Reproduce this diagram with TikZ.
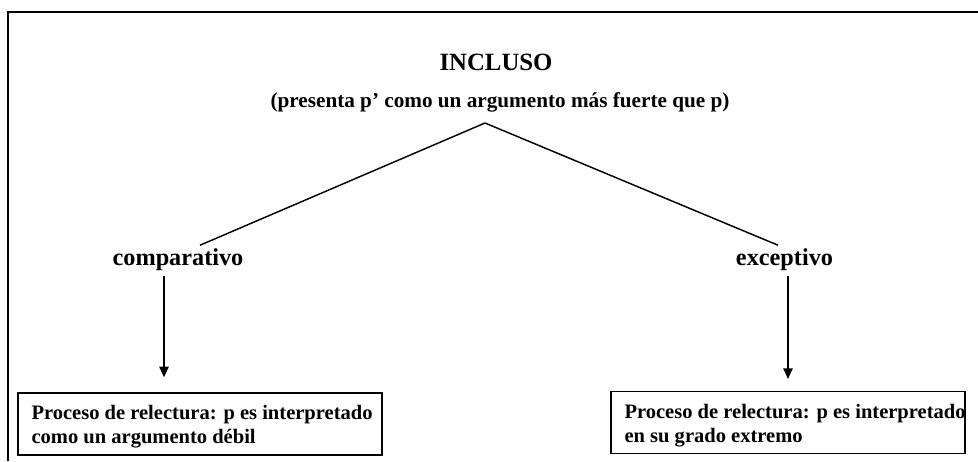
\documentclass[tikz,border=0pt]{standalone}
\usepackage{fontspec}
\setmainfont{Liberation Serif}
\usetikzlibrary{arrows.meta}
\begin{document}
\begin{tikzpicture}[x=0.75pt,y=-0.75pt,
  lbl/.style={inner sep=0pt,anchor=base,font=\bfseries\fontsize{18.2}{21}\selectfont},
  boxframe/.style={draw,line width=1.1pt,inner sep=0pt},
  boxtext/.style={inner sep=0pt,anchor=west,align=left,font=\bfseries\fontsize{15.4}{18}\selectfont},
  conn/.style={line width=1.1pt},
  arr/.style={line width=1.3pt,-{Triangle[length=8pt,width=7pt]}}]
\useasboundingbox (0,0) rectangle (978,461);
% frame
\draw[line width=1.5pt] (8,461) -- (8,11.5) -- (978,11.5);
% titles
\node[lbl,font=\bfseries\fontsize{18.6}{21}\selectfont] (title) at (496,70) {INCLUSO};
\node[lbl,font=\bfseries\fontsize{15.9}{18}\selectfont] (sub) at (500,107) {(presenta p’ como un argumento más fuerte que p)};
\coordinate (apex) at (485,123);
% branches
\node[lbl] (comp) at (178,265) {comparativo};
\node[lbl] (exc) at (784.5,265) {exceptivo};
\draw[conn] (apex) -- ([xshift=22*0.75pt,yshift=2pt]comp.north);
\draw[conn] (apex) -- ([xshift=-6.5*0.75pt,yshift=2pt]exc.north);
% boxes
\node[boxframe,minimum width=364*0.75pt,minimum height=62*0.75pt] (b1) at (200,424) {};
\node[boxframe,minimum width=354*0.75pt,minimum height=61.5*0.75pt] (b2) at (788,422.5) {};
\node[boxtext] (t1) at ([xshift=14*0.75pt,yshift=-2pt]b1.west) {Proceso de relectura: p es interpretado\\como un argumento débil};
\node[boxtext] (t2) at ([xshift=14*0.75pt,yshift=-2pt]b2.west) {Proceso de relectura: p es interpretado\\en su grado extremo};
% arrows
\draw[arr] ([xshift=-14*0.75pt,yshift=-6*0.75pt]comp.south) -- ([xshift=-36*0.75pt,yshift=15*0.75pt]b1.north);
\draw[arr] ([xshift=3.5*0.75pt,yshift=-6*0.75pt]exc.south) -- ([yshift=12*0.75pt]b2.north);
\end{tikzpicture}
\end{document}
